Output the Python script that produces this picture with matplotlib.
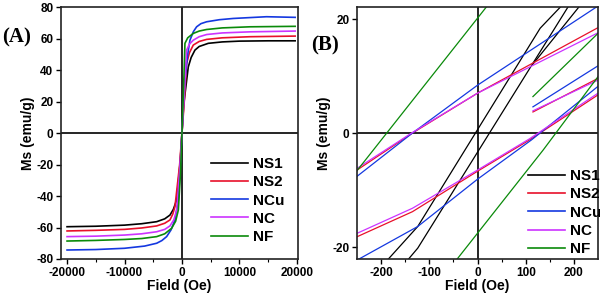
import numpy as np
import matplotlib.pyplot as plt

plt.rcParams['font.family'] = ['Liberation Sans', 'DejaVu Sans']
plt.rcParams['font.weight'] = 'bold'
plt.rcParams['axes.unicode_minus'] = False

names = ['NS1', 'NS2', 'NCu', 'NC', 'NF']
colors = ['black', '#e8102a', '#1438e0', '#cc33ff', '#0a8a0a']

# panel A: full loops (H in Oe, M in emu/g)
h_ns1 = [-20000, -15000, -10000, -7000, -4400, -3000, -2090, -1500, -920, -300, 0,
         300, 1100, 1600, 2260, 3000, 4580, 7000, 10000, 15000, 19700]
m_ns1 = [-59.5, -59.2, -58.5, -57.6, -56.3, -54.5, -52.1, -48.5, -42.5, -18, 0,
         18, 42, 48, 52.7, 55, 57, 57.9, 58.4, 58.6, 58.6]
h_ns2 = [-20000, -15000, -10000, -7000, -4400, -3000, -2090, -1600, -1220, -400, 0,
         400, 810, 1300, 1970, 3000, 4300, 7000, 11800, 19700]
m_ns2 = [-62.2, -61.8, -61.2, -60.3, -59.0, -57.3, -55.2, -51.5, -46.8, -20, 0,
         20, 44.2, 51, 55.9, 58.2, 59.5, 60.5, 61.2, 61.6]
h_ncu = [-20000, -15000, -10000, -6500, -4400, -3500, -2670, -1900, -1220, -630, -250, 0,
         250, 520, 1000, 1390, 2000, 2550, 3300, 4300, 6500, 8930, 14700, 19700]
m_ncu = [-74.3, -74.0, -73.2, -71.8, -70.0, -68.3, -65.8, -61.5, -55.2, -42.5, -18, 0,
         18, 33.7, 50, 59, 64.5, 67.5, 69.5, 70.7, 72, 72.8, 73.9, 73.5]
h_nc = [-20000, -15000, -10000, -7000, -4400, -3000, -2090, -1400, -920, -350, 0,
        350, 810, 1300, 1970, 3000, 4300, 7000, 11800, 19700]
m_nc = [-65.8, -65.5, -64.8, -64.0, -62.7, -61.2, -59.0, -55, -48.9, -22, 0,
        22, 52.7, 56.5, 59, 61.2, 62.6, 63.6, 64.3, 64.8]
h_nf = [-20000, -15000, -10000, -7000, -4400, -3000, -1800, -1100, -630, -250, 0,
        250, 520, 1000, 1970, 3000, 4300, 7000, 11800, 19700]
m_nf = [-68.6, -68.2, -67.6, -67.0, -65.8, -64.0, -60.5, -56, -48.9, -25, 0,
        25, 57, 60.5, 63.3, 64.8, 65.8, 66.8, 67.5, 67.8]

# panel B: low field region, segments per sample
hb_ns1 = [[-187, -124, 130, 174], [-145, -124, 189], [115, 212]]
mb_ns1 = [[-22.3, -16.4, 18.4, 22.3], [-22.3, -20.2, 22.3], [12.1, 22.3]]
hb_ns2 = [[-250, -135, 0, 250], [-250, -135, 0, 108, 250], [115, 250]]
mb_ns2 = [[-6.5, 0, 7.0, 18.5], [-18.2, -13.8, -6.7, -1.2, 6.7], [3.7, 9.6]]
hb_ncu = [[-250, -135, 0, 250], [-250, -124, 0, 112, 250], [115, 250]]
mb_ncu = [[-7.6, 0, 8.4, 22.3], [-22.3, -16.4, -8.1, -1.2, 8.2], [4.6, 11.8]]
hb_nc = [[-250, -135, 0, 250], [-250, -135, 0, 108, 250], [115, 250]]
mb_nc = [[-6.2, 0.1, 7.0, 17.6], [-17.6, -13.2, -6.5, -1.0, 7.0], [3.9, 9.3]]
hb_nf = [[-250, 20], [115, 250], [-44, 136, 250]]
mb_nf = [[-6.6, 22.3], [6.4, 17.5], [-22.3, -3.0, 9.9]]

full_h = [h_ns1, h_ns2, h_ncu, h_nc, h_nf]
full_m = [m_ns1, m_ns2, m_ncu, m_nc, m_nf]
low_h = [hb_ns1, hb_ns2, hb_ncu, hb_nc, hb_nf]
low_m = [mb_ns1, mb_ns2, mb_ncu, mb_nc, mb_nf]

fig = plt.figure(figsize=(6, 2.97), dpi=100)
ax1 = fig.add_axes([0.1017, 0.128, 0.395, 0.848])
ax2 = fig.add_axes([0.595, 0.128, 0.4017, 0.848])

for i in range(5):
    ax1.plot(full_h[i], full_m[i], color=colors[i], lw=1.2, label=names[i])
    for j in range(len(low_h[i])):
        ax2.plot(low_h[i][j], low_m[i][j], color=colors[i], lw=0.9,
                 label=names[i] if j == 0 else None)

for ax in (ax1, ax2):
    ax.axhline(0, color='black', lw=1.2, zorder=0)
    ax.axvline(0, color='black', lw=1.2, zorder=0)
    for s in ax.spines.values():
        s.set_linewidth(1.2)
        s.set_color('#222222')
    ax.tick_params(direction='out', length=3.5, width=1, labelsize=8.5, pad=2)
    ax.tick_params(which='minor', direction='out', length=2, width=0.8)
    ax.set_xlabel('Field (Oe)', fontsize=10, fontweight='bold', labelpad=0)
    ax.set_ylabel('Ms (emu/g)', fontsize=10, fontweight='bold', labelpad=1)

ax1.set_xlim(-21050, 20200)
ax1.set_ylim(-80, 80)
ax1.set_xticks([-20000, -10000, 0, 10000, 20000])
ax1.set_xticks([-15000, -5000, 5000, 15000], minor=True)
ax1.set_yticks(np.arange(-80, 81, 20))

ax2.set_xlim(-250, 250)
ax2.set_ylim(-22.1, 22.1)
ax2.set_xticks([-200, -100, 0, 100, 200])
ax2.set_xticks([-150, -50, 50, 150], minor=True)
ax2.set_yticks([-20, 0, 20])

leg_kw = dict(frameon=False, fontsize=11, handlelength=2.4, handletextpad=0.33,
              labelspacing=0.28, borderpad=0, borderaxespad=0, loc='upper left')
l1 = ax1.legend(bbox_to_anchor=(0.633, 0.405), **leg_kw)
l2 = ax2.legend(bbox_to_anchor=(0.71, 0.357), **leg_kw)
for leg in (l1, l2):
    for t in leg.get_texts():
        t.set_fontweight('bold')
    for ln in leg.get_lines():
        ln.set_linewidth(1.2)

fig.text(0.004, 0.857, '(A)', family=['Liberation Serif', 'DejaVu Serif'],
         fontsize=15, fontweight='bold', va='baseline')
fig.text(0.518, 0.83, '(B)', family=['Liberation Serif', 'DejaVu Serif'],
         fontsize=15, fontweight='bold', va='baseline')

fig.savefig('out.png', dpi=100)
